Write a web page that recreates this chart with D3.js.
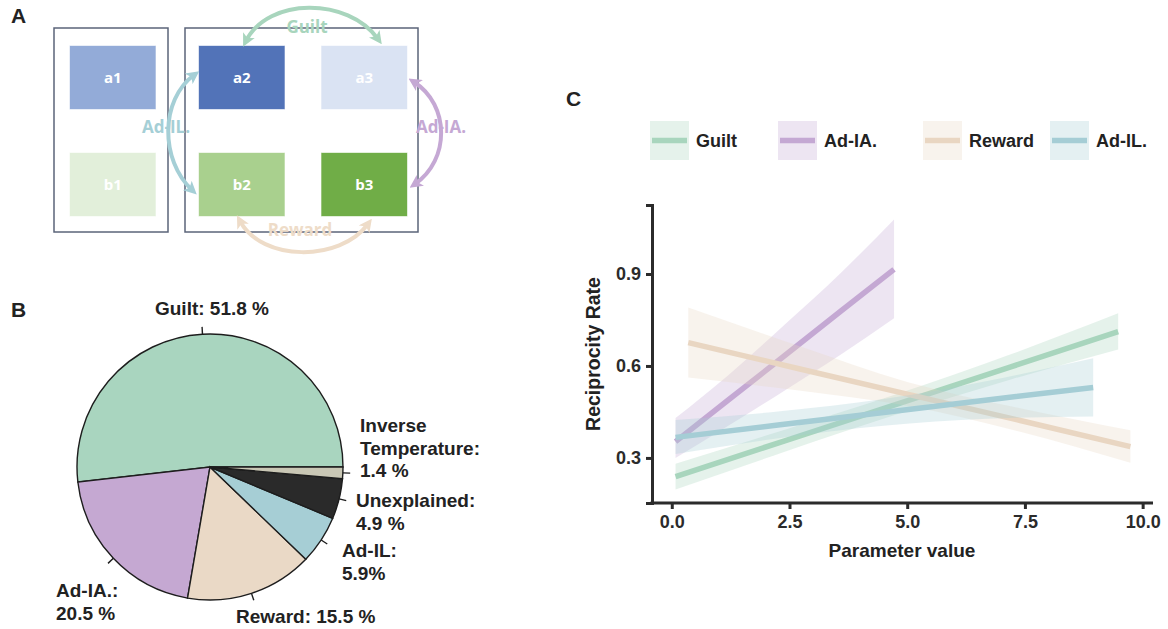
<!DOCTYPE html>
<html>
<head>
<meta charset="utf-8">
<script src="https://cdn.jsdelivr.net/npm/d3@7"></script>
<style>
  body { margin: 0; background: #fff; }
  svg text { font-family: "Liberation Sans", Arial, sans-serif; font-weight: bold; }
</style>
</head>
<body>
<svg id="chart" width="1168" height="629"></svg>
<script>
// ---- Panel A: option boxes and the model terms linking them
var boxNames = ["a1", "a2", "a3", "b1", "b2", "b3"],
    boxColors = ["#93abd8", "#5273b8", "#dae3f3", "#e2efda", "#a9d08e", "#70ad47"];
var relNames = ["Guilt", "Ad-IL.", "Ad-IA.", "Reward"],
    relColors = ["#a8d5bd", "#a5cfd6", "#c5a8d4", "#eedcc8"];

// ---- Panel B: variance explained (%)
var pieNames = ["Guilt", "Ad-IA.", "Reward", "Ad-IL", "Unexplained", "Inverse Temperature"],
    pieValues = [51.8, 20.5, 15.5, 5.9, 4.9, 1.4],
    pieColors = ["#a9d5bf", "#c5a8d2", "#ead9c6", "#a6ced5", "#2a2a2a", "#c9c7b5"],
    pieText = [["Guilt: 51.8 %"], ["Ad-IA.:", "20.5 %"], ["Reward: 15.5 %"],
               ["Ad-IL:", "5.9%"], ["Unexplained:", "4.9 %"], ["Inverse", "Temperature:", "1.4 %"]];

// ---- Panel C: fitted reciprocity rate with 95% band
var seriesNames = ["Guilt", "Ad-IA.", "Reward", "Ad-IL."],
    seriesColors = ["#a8d5bd", "#c4a8d3", "#e9d6c2", "#a5cdd5"];
var guiltX   = [0.08, 2.4, 4.8, 7.2, 9.48],
    guiltFit = [0.239, 0.356, 0.476, 0.597, 0.712],
    guiltLo  = [0.197, 0.320, 0.443, 0.556, 0.654],
    guiltHi  = [0.281, 0.392, 0.509, 0.638, 0.772];
var adiaX    = [0.08, 1.2, 2.4, 3.6, 4.72],
    adiaFit  = [0.353, 0.489, 0.634, 0.780, 0.915],
    adiaLo   = [0.300, 0.405, 0.520, 0.638, 0.756],
    adiaHi   = [0.430, 0.570, 0.735, 0.905, 1.078];
var rewardX   = [0.35, 2.7, 5.0, 7.4, 9.74],
    rewardFit = [0.676, 0.591, 0.508, 0.422, 0.337],
    rewardLo  = [0.562, 0.520, 0.470, 0.385, 0.284],
    rewardHi  = [0.791, 0.665, 0.548, 0.462, 0.390];
var adilX    = [0.08, 2.3, 4.5, 6.7, 8.95],
    adilFit  = [0.367, 0.408, 0.448, 0.489, 0.530],
    adilLo   = [0.313, 0.365, 0.405, 0.428, 0.435],
    adilHi   = [0.424, 0.452, 0.492, 0.551, 0.625];
var xTicks = [0, 2.5, 5, 7.5, 10],
    yTicks = [0.3, 0.6, 0.9];

var svg = d3.select("#chart");

// panel letters
svg.selectAll("text.panel").data([["A", 11, 23], ["B", 11, 317], ["C", 566, 106]])
    .enter().append("text").attr("class", "panel")
    .attr("x", function(d) { return d[1]; }).attr("y", function(d) { return d[2]; })
    .attr("font-size", 21).attr("fill", "#222").text(function(d) { return d[0]; });

// ================= Panel A =================
var gA = svg.append("g");
var colX = [69.5, 198.5, 321], rowY = [45.5, 152.5], boxW = 86.5, boxH = 64;

gA.selectAll("rect.frame").data([[54, 28, 114, 204], [185, 28, 233, 204]])
    .enter().append("rect").attr("class", "frame")
    .attr("x", function(d) { return d[0]; }).attr("y", function(d) { return d[1]; })
    .attr("width", function(d) { return d[2]; }).attr("height", function(d) { return d[3]; })
    .attr("fill", "none").attr("stroke", "#5b6479").attr("stroke-width", 1.5);

var boxes = gA.selectAll("g.box").data(boxNames).enter().append("g").attr("class", "box")
    .attr("transform", function(d, i) { return "translate(" + colX[i % 3] + "," + rowY[Math.floor(i / 3)] + ")"; });
boxes.append("rect").attr("width", boxW).attr("height", boxH)
    .attr("fill", function(d, i) { return boxColors[i]; })
    .attr("stroke", "rgba(255,255,255,0.6)").attr("stroke-width", 1);
boxes.append("text").attr("x", boxW / 2).attr("y", boxH / 2 + 5.5)
    .attr("text-anchor", "middle").attr("fill", "#fff")
    .style("font-family", "'Open Sans', sans-serif").attr("font-size", 15)
    .text(function(d) { return d; });

// curved double arrows
var relPaths = [
    "M246,41 C268,-3 348,-3 378,39",
    "M194,75 C160,100 160,160 192,190",
    "M414,82 C450,105 450,160 415,184",
    "M240,221 C262,262 340,262 368,224"
];
var relLabelPos = [[307, 33], [166, 133], [441, 133], [300, 236]];

var defs = svg.append("defs");
relColors.forEach(function(c, i) {
    defs.append("marker").attr("id", "ah" + i)
        .attr("viewBox", "0 0 12 12").attr("refX", 6).attr("refY", 6)
        .attr("markerWidth", 13).attr("markerHeight", 13)
        .attr("markerUnits", "userSpaceOnUse")
        .attr("orient", "auto-start-reverse")
        .append("path").attr("d", "M0,0 L12,6 L0,12 L3,6 Z").attr("fill", c);
});

gA.selectAll("path.rel").data(relNames).enter().append("path").attr("class", "rel")
    .attr("d", function(d, i) { return relPaths[i]; })
    .attr("fill", "none")
    .attr("stroke", function(d, i) { return relColors[i]; })
    .attr("stroke-width", 4)
    .attr("marker-start", function(d, i) { return "url(#ah" + i + ")"; })
    .attr("marker-end", function(d, i) { return "url(#ah" + i + ")"; });

gA.selectAll("text.rel").data(relNames).enter().append("text").attr("class", "rel")
    .attr("x", function(d, i) { return relLabelPos[i][0]; })
    .attr("y", function(d, i) { return relLabelPos[i][1]; })
    .attr("text-anchor", "middle")
    .style("font-family", "'Open Sans', sans-serif").attr("font-size", 17)
    .attr("fill", function(d, i) { return relColors[i]; })
    .text(function(d) { return d; });

// ================= Panel B =================
var pieR = 133, pcx = 210, pcy = 467;
var gB = svg.append("g").attr("transform", "translate(" + pcx + "," + pcy + ")");

var pie = d3.pie().sort(null)
    .startAngle(Math.PI / 2).endAngle(Math.PI / 2 - 2 * Math.PI);
var arcs = pie(pieValues);
var arc = d3.arc().innerRadius(0).outerRadius(pieR);

gB.selectAll("path.slice").data(arcs).enter().append("path").attr("class", "slice")
    .attr("d", arc)
    .attr("fill", function(d, i) { return pieColors[i]; })
    .attr("stroke", "#1d1d1d").attr("stroke-width", 1.4);

gB.selectAll("line.ptick").data(arcs).enter().append("line").attr("class", "ptick")
    .attr("x1", function(d) { return pieR * Math.sin((d.startAngle + d.endAngle) / 2); })
    .attr("y1", function(d) { return -pieR * Math.cos((d.startAngle + d.endAngle) / 2); })
    .attr("x2", function(d) { return 1.055 * pieR * Math.sin((d.startAngle + d.endAngle) / 2); })
    .attr("y2", function(d) { return -1.055 * pieR * Math.cos((d.startAngle + d.endAngle) / 2); })
    .attr("stroke", "#1d1d1d").attr("stroke-width", 1.4);

// label placement (absolute page coordinates)
var pieLabelPos = [[212, 315, "middle"], [56, 597, "start"], [236, 623, "start"],
                   [342, 557, "start"], [356, 507, "start"], [360, 432, "start"]];
pieText.forEach(function(lines, i) {
    var t = svg.append("text")
        .attr("x", pieLabelPos[i][0]).attr("y", pieLabelPos[i][1])
        .attr("text-anchor", pieLabelPos[i][2])
        .attr("font-size", 19).attr("fill", "#222");
    lines.forEach(function(s, j) {
        t.append("tspan").attr("x", pieLabelPos[i][0]).attr("dy", j ? 22.5 : 0).text(s);
    });
});

// ================= Panel C =================
var x = d3.scaleLinear().domain([-0.42, 10.22]).range([652, 1153]);
var y = d3.scaleLinear().domain([0.153, 1.125]).range([503, 205]);

var series = [
    {x: guiltX, fit: guiltFit, lo: guiltLo, hi: guiltHi},
    {x: adiaX, fit: adiaFit, lo: adiaLo, hi: adiaHi},
    {x: rewardX, fit: rewardFit, lo: rewardLo, hi: rewardHi},
    {x: adilX, fit: adilFit, lo: adilLo, hi: adilHi}
].map(function(s, k) {
    return {
        name: seriesNames[k], color: seriesColors[k],
        pts: s.x.map(function(v, j) { return {x: v, fit: s.fit[j], lo: s.lo[j], hi: s.hi[j]}; })
    };
});

var gC = svg.append("g");
var area = d3.area().curve(d3.curveMonotoneX)
    .x(function(d) { return x(d.x); })
    .y0(function(d) { return y(d.lo); })
    .y1(function(d) { return y(d.hi); });
var line = d3.line()
    .x(function(d) { return x(d.x); })
    .y(function(d) { return y(d.fit); });

series.forEach(function(s) {
    gC.append("path").datum(s.pts).attr("d", area)
        .attr("fill", s.color).attr("fill-opacity", 0.3);
    gC.append("path").datum(s.pts).attr("d", line)
        .attr("fill", "none").attr("stroke", s.color).attr("stroke-width", 5.5);
});

// axes
var xAxis = gC.append("g").attr("transform", "translate(0,503)")
    .call(d3.axisBottom(x).tickValues(xTicks).tickFormat(d3.format(".1f"))
        .tickSizeOuter(0).tickSize(6).tickPadding(6));
var yAxis = gC.append("g").attr("transform", "translate(652,0)")
    .call(d3.axisLeft(y).tickValues(yTicks).tickFormat(d3.format(".1f"))
        .tickSizeOuter(0).tickSize(6).tickPadding(5));
[xAxis, yAxis].forEach(function(a) {
    a.select(".domain").attr("stroke", "#2b2b2b").attr("stroke-width", 3);
    a.selectAll(".tick line").attr("stroke", "#2b2b2b").attr("stroke-width", 3);
    a.selectAll(".tick text").attr("fill", "#2b2b2b").attr("font-size", 18)
        .style("font-family", "'Liberation Sans', Arial, sans-serif").style("font-weight", "bold");
});
// x-axis line meets the y-axis at the corner
xAxis.select(".domain").attr("d", "M650.5,0H1153");

gC.append("text").attr("x", 902).attr("y", 557).attr("text-anchor", "middle")
    .attr("font-size", 19).attr("fill", "#222").text("Parameter value");
gC.append("text").attr("transform", "translate(600,354) rotate(-90)")
    .attr("text-anchor", "middle").attr("font-size", 19.5).attr("fill", "#222")
    .text("Reciprocity Rate");

// legend
var legendX = [650, 778, 923, 1050], keyS = 39, keyY = 121;
var leg = gC.selectAll("g.leg").data(series).enter().append("g").attr("class", "leg")
    .attr("transform", function(d, i) { return "translate(" + legendX[i] + "," + keyY + ")"; });
leg.append("rect").attr("width", keyS).attr("height", keyS)
    .attr("fill", function(d) { return d.color; }).attr("fill-opacity", 0.3);
leg.append("line").attr("x1", 2).attr("x2", keyS - 2)
    .attr("y1", keyS / 2).attr("y2", keyS / 2)
    .attr("stroke", function(d) { return d.color; }).attr("stroke-width", 5.5);
leg.append("text").attr("x", keyS + 7).attr("y", keyS / 2 + 6.5)
    .attr("font-size", 18).attr("fill", "#222")
    .text(function(d) { return d.name; });
</script>
</body>
</html>
